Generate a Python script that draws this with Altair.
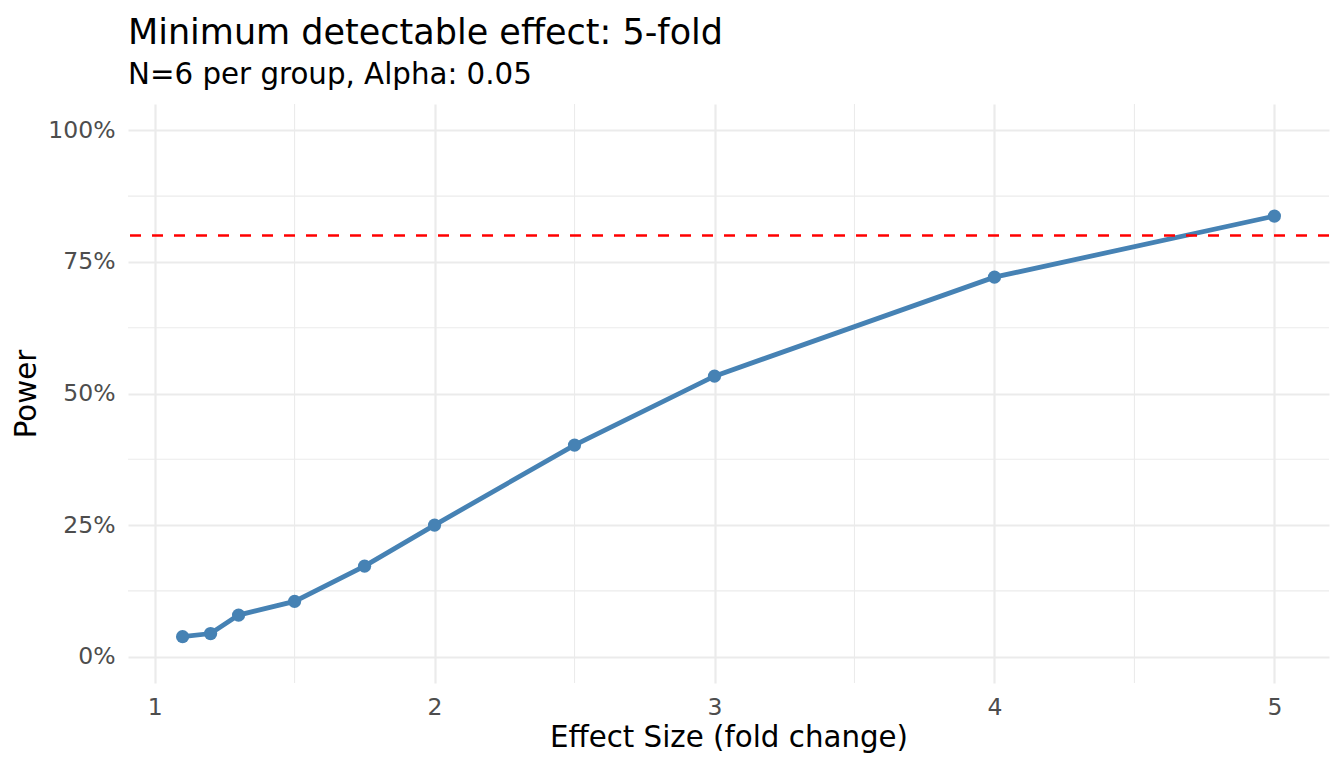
import altair as alt
import pandas as pd

effect = [1.1, 1.2, 1.3, 1.5, 1.75, 2.0, 2.5, 3.0, 4.0, 5.0]
power = [0.038, 0.044, 0.079, 0.105, 0.172, 0.250, 0.402, 0.533, 0.721, 0.837]
x_ticks = [1, 2, 3, 4, 5]
x_minor = [1.5, 2.5, 3.5, 4.5]
y_ticks = [0, 0.25, 0.5, 0.75, 1.0]
y_minor = [0.125, 0.375, 0.625, 0.875]
target = [0.8]

df = pd.DataFrame({"effect": effect, "power": power})
xs = alt.Scale(domain=[0.905, 5.195], nice=False, zero=False)
ys = alt.Scale(domain=[-0.05, 1.05], nice=False, zero=False)
FONT = "DejaVu Sans"

xaxis = alt.Axis(values=x_ticks, format="d", labelPadding=12, titlePadding=5)
yaxis = alt.Axis(values=y_ticks, format=".0%", labelPadding=13, titlePadding=6)
XT = "Effect Size (fold change)"
YT = "Power"

xminor = alt.Chart(pd.DataFrame({"v": x_minor})).mark_rule(color="#EBEBEB", strokeWidth=1.1).encode(
    x=alt.X("v:Q", scale=xs, axis=xaxis, title=XT))
yminor = alt.Chart(pd.DataFrame({"v": y_minor})).mark_rule(color="#EBEBEB", strokeWidth=1.1).encode(
    y=alt.Y("v:Q", scale=ys, axis=yaxis, title=YT))

line = alt.Chart(df).mark_line(color="#4682B4", strokeWidth=4.8).encode(
    x=alt.X("effect:Q", scale=xs, title=XT, axis=xaxis),
    y=alt.Y("power:Q", scale=ys, title=YT, axis=yaxis),
)
points = alt.Chart(df).mark_circle(color="#4682B4", size=175, opacity=1).encode(
    x=alt.X("effect:Q", scale=xs, title=XT, axis=xaxis),
    y=alt.Y("power:Q", scale=ys, title=YT, axis=yaxis))
hline = alt.Chart(pd.DataFrame({"t": target})).mark_rule(color="#FF0000", strokeWidth=2.5, strokeDash=[11, 11]).encode(
    y=alt.Y("t:Q", scale=ys, title=YT, axis=yaxis))

chart = alt.layer(xminor, yminor, line, points, hline).properties(
    width=1201, height=579,
    title=alt.TitleParams(text="Minimum detectable effect: 5-fold", subtitle="N=6 per group, Alpha: 0.05",
                          anchor="start", frame="group", offset=13, subtitlePadding=10),
    autosize=alt.AutoSizeParams(type="none"),
    padding={"left": 120, "top": 96, "right": 7, "bottom": 77},
).configure_view(stroke=None).configure_title(
    font=FONT, fontSize=35, fontWeight="normal", color="#000000",
    subtitleFont=FONT, subtitleFontSize=29.3, subtitleColor="#000000",
).configure_axis(
    grid=True, gridColor="#EBEBEB", gridWidth=2.2, ticks=False, domain=False,
    labelFontSize=23.5, labelColor="#4D4D4D", titleFontSize=29.3, titleFontWeight="normal",
    titleColor="#000000", labelFont=FONT, titleFont=FONT,
)

chart.save("out.html", embed_options={"renderer": "svg", "actions": False})
